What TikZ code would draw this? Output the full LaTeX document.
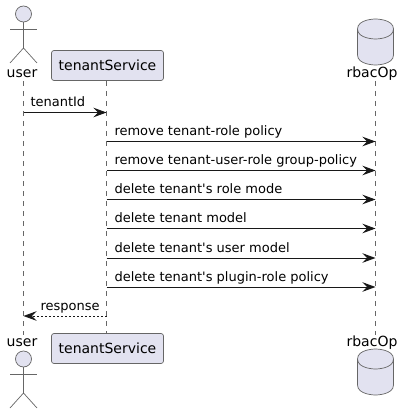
\documentclass[tikz,border=0pt]{standalone}
\usepackage{fontspec}
\newfontfamily\plainsans{DejaVu Sans}
\usetikzlibrary{arrows.meta,shapes.geometric}
\definecolor{pfill}{HTML}{E2E2F0}
\definecolor{pline}{HTML}{181818}
\definecolor{lifegray}{HTML}{666666}
\tikzset{
  x=1pt,y=-1pt,
  every node/.style={font=\plainsans\fontsize{14}{16}\selectfont,text=black,inner sep=0pt,outer sep=0pt},
  lifeline/.style={draw=lifegray,line width=0.6pt,dash pattern=on 5pt off 5pt},
  msg/.style={draw=pline,line width=1pt,-{Stealth[length=13pt,width=9.5pt,inset=4.5pt,fill=pline]}},
  reply/.style={draw=pline,line width=0.8pt,dash pattern=on 2pt off 2pt,-{Stealth[length=13pt,width=9.5pt,inset=4.5pt,fill=pline]}},
  partbox/.style={draw=lifegray,fill=pfill,line width=0.7pt,rounded corners=2.5pt,minimum width=112pt,minimum height=30pt},
  head/.style={circle,draw=lifegray,fill=pfill,line width=0.7pt,minimum size=16pt},
  limb/.style={draw=lifegray,line width=0.7pt},
  cyl/.style={draw=lifegray,fill=pfill,line width=0.7pt},
  msglabel/.style={anchor=base west,font=\plainsans\fontsize{13}{16}\selectfont},
  partlabel/.style={anchor=base},
}
\newcommand{\stickman}[2]{%
  \draw[limb] (#1,#2+8) -- (#1,#2+34);
  \draw[limb] (#1-13.5,#2+15) -- (#1+13.5,#2+15);
  \draw[limb] (#1-13.5,#2+49) -- (#1,#2+34) -- (#1+13.5,#2+49);
}
\newcommand{\dbdrum}[2]{%
  \draw[cyl] (357.5,#1+10) .. controls (357.5,#1) and (375.5,#1) .. (375.5,#1)
     .. controls (375.5,#1) and (393.5,#1) .. (393.5,#1+10)
     -- (393.5,#2-10) .. controls (393.5,#2) and (375.5,#2) .. (375.5,#2)
     .. controls (375.5,#2) and (357.5,#2) .. (357.5,#2-10) -- cycle;
  \draw[cyl,fill=none] (357.5,#1+10) .. controls (357.5,#1+20) and (375.5,#1+20) .. (375.5,#1+20)
     .. controls (375.5,#1+20) and (393.5,#1+20) .. (393.5,#1+10);
}
\begin{document}
\begin{tikzpicture}
\useasboundingbox (0,0) rectangle (409,414);
% lifeline ends
\coordinate (uT) at (23.5,81); \coordinate (uB) at (23.5,335);
\coordinate (sT) at (106.5,81); \coordinate (sB) at (106.5,333);
\coordinate (rT) at (375.5,81); \coordinate (rB) at (375.5,335);
\draw[lifeline] (uT) -- (uB);
\draw[lifeline] (sT) -- (sB);
\draw[lifeline] (rT) -- (rB);
% top participants
\node[head] (userheadT) at (23.5,14) {};
\stickman{23.5}{14}
\node[partlabel] (userT) at (22,78) {user};
\node[partbox] (svcT) at (107.5,65.5) {tenantService};
\dbdrum{19}{65}
\node[partlabel] (rbacT) at (372,78) {rbacOp};
% bottom participants
\node[head] (userheadB) at (23.5,359) {};
\stickman{23.5}{359}
\node[partlabel] (userB) at (22,346) {user};
\node[partbox] (svcB) at (107.5,348.5) {tenantService};
\dbdrum{349}{395}
\node[partlabel] (rbacB) at (372,346) {rbacOp};
% message anchors
\foreach \i/\y in {1/112.5,2/141.5,3/170.5,4/199.5,5/228.5,6/258,7/287,8/316}{
  \coordinate (u\i) at (23.5,\y);
  \coordinate (s\i) at (106.5,\y);
  \coordinate (r\i) at (375.5,\y);
}
\draw[msg] (u1) -- (s1);
\draw[msg] (s2) -- (r2);
\draw[msg] (s3) -- (r3);
\draw[msg] (s4) -- (r4);
\draw[msg] (s5) -- (r5);
\draw[msg] (s6) -- (r6);
\draw[msg] (s7) -- (r7);
\draw[reply] (s8) -- (u8);
\node[msglabel] (m1) at (30.5,106.5) {tenantId};
\node[msglabel] (m2) at (114.5,135.5) {remove tenant-role policy};
\node[msglabel] (m3) at (114.5,164.5) {remove tenant-user-role group-policy};
\node[msglabel] (m4) at (114.5,193.5) {delete tenant's role mode};
\node[msglabel] (m5) at (114.5,222.5) {delete tenant model};
\node[msglabel] (m6) at (114.5,252) {delete tenant's user model};
\node[msglabel] (m7) at (114.5,281) {delete tenant's plugin-role policy};
\node[msglabel] (m8) at (40.5,310.5) {response};
\end{tikzpicture}
\end{document}
